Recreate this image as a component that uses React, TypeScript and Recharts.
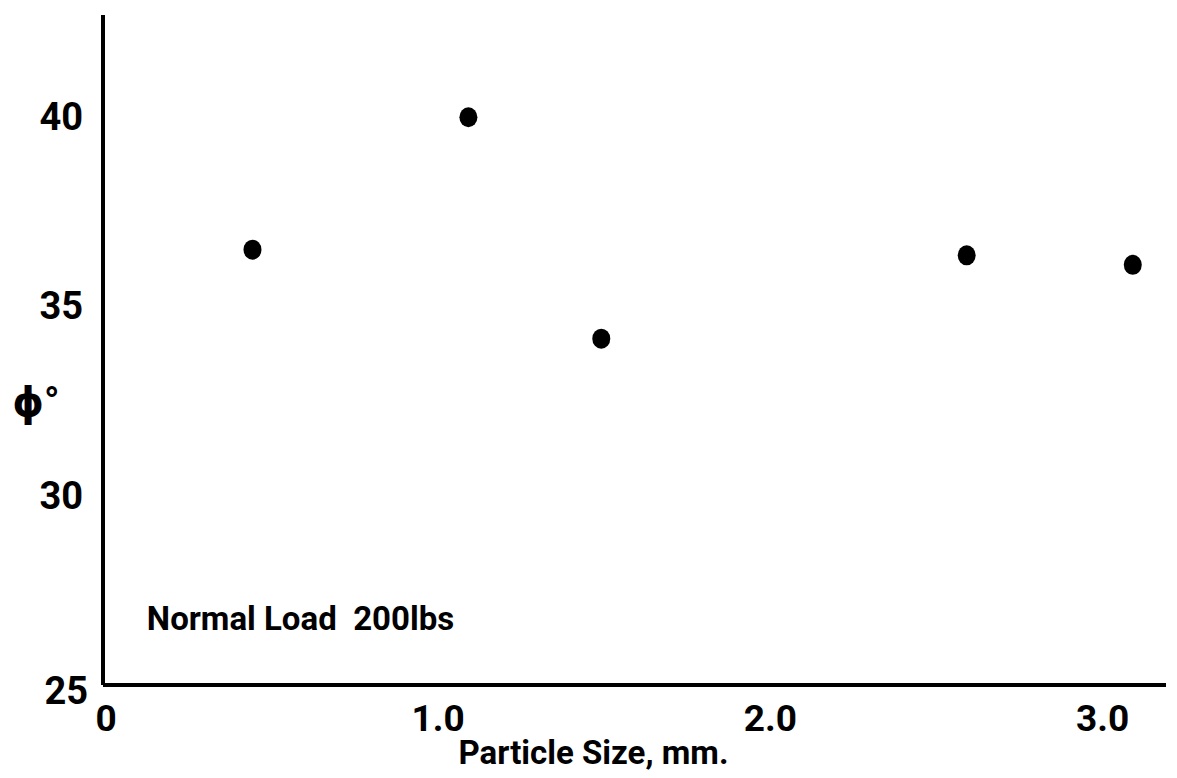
import React from 'react';
import { ScatterChart, Scatter, XAxis, YAxis, ReferenceDot } from 'recharts';

const particleSize = [0.45, 1.1, 1.5, 2.6, 3.1];
const phiDeg = [36.5, 40.0, 34.15, 36.35, 36.1];
const xTicks = [0, 1, 2, 3];
const yTicks = [25, 30, 35, 40];
const xTickLabels = ['0', '1.0', '2.0', '3.0'];

const data = particleSize.map((x, i) => ({ x, y: phiDeg[i] }));

const FONT = 'Roboto, "DejaVu Sans", sans-serif';

const XTick = (props: any) => {
  const { x, y, payload } = props;
  const idx = xTicks.indexOf(payload.value);
  return (
    <text x={x + 3} y={y + 13} textAnchor="middle" dominantBaseline="central"
      fontFamily={FONT} fontWeight={700} fontSize={37} fill="#000">
      {idx >= 0 ? xTickLabels[idx] : String(payload.value)}
    </text>
  );
};

const YTick = (props: any) => {
  const { x, y, payload } = props;
  const is25 = payload.value === 25;
  return (
    <text x={x + (is25 ? 5 : 0)} y={y + (is25 ? 6 : 0)} textAnchor="end" dominantBaseline="central"
      fontFamily={FONT} fontWeight={700} fontSize={38} fill="#000">
      {payload.value}
    </text>
  );
};

const Dot = (props: any) => {
  const { cx, cy } = props;
  return <ellipse cx={cx} cy={cy} rx={9} ry={10} fill="#000" />;
};

export default function App() {
  return (
    <div style={{ position: 'absolute', left: 0, top: 0, width: 1177, height: 778, background: '#fff' }}>
      <ScatterChart width={1177} height={778} margin={{ top: 15, right: 11, bottom: 33, left: 23 }}>
        <XAxis
          type="number"
          dataKey="x"
          domain={[0, 3.2]}
          ticks={xTicks}
          tick={<XTick />}
          tickLine={false}
          tickSize={18}
          height={60}
          axisLine={{ stroke: '#000', strokeWidth: 4 }}
          allowDataOverflow
          label={{
            content: (p: any) => {
              const vb = p.viewBox || {};
              return (
                <text x={vb.x + vb.width / 2 - 41} y={752} textAnchor="middle" dominantBaseline="central"
                  fontFamily={FONT} fontWeight={700} fontSize={33} fill="#000" style={{ whiteSpace: 'pre' }}>
                  Particle Size, mm.
                </text>
              );
            },
          }}
        />
        <YAxis
          type="number"
          dataKey="y"
          domain={[25, 42.7]}
          ticks={yTicks}
          tick={<YTick />}
          tickLine={false}
          tickSize={18}
          width={80}
          axisLine={{ stroke: '#000', strokeWidth: 4 }}
          allowDataOverflow
          label={{
            content: () => (
              <text x={36} y={402} textAnchor="middle" dominantBaseline="central"
                fontFamily={FONT} fontWeight={700} fontSize={40} fill="#000">
                ϕ°
              </text>
            ),
          }}
        />
        <Scatter data={data} shape={<Dot />} isAnimationActive={false} />
        <ReferenceDot x={0.132} y={26.77} r={0} fill="none" stroke="none"
          label={{
            content: (p: any) => {
              const vb = p.viewBox || {};
              return (
                <text x={vb.x} y={vb.y} textAnchor="start" dominantBaseline="central"
                  fontFamily={FONT} fontWeight={700} fontSize={33} fill="#000" style={{ whiteSpace: 'pre' }}>
                  Normal Load  200lbs
                </text>
              );
            },
          }}
        />
      </ScatterChart>
    </div>
  );
}
